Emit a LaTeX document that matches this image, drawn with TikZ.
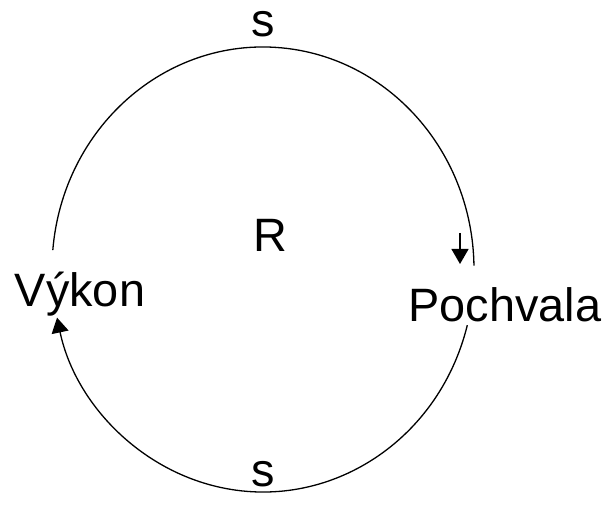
\documentclass[tikz,border=0pt]{standalone}
\usepackage{fontspec}
\setmainfont{Liberation Sans}
\usetikzlibrary{arrows.meta}

\begin{document}
\begin{tikzpicture}[x=1bp,y=1bp]
  \tikzset{ lbl/.style={inner sep=0pt,anchor=base,font=\fontsize{47}{50}\selectfont},
            loop/.style={line width=1.3bp,black},
            tip/.style={-{Triangle[width=17bp,length=15bp]}},
  }
  \useasboundingbox (0,0) rectangle (608,510);

  \node[lbl] (vykon)    at (80, 203)  {Výkon};
  \node[lbl] (pochvala) at (505, 188) {Pochvala};
  \node[lbl] (r)        at (270, 258) {R};
  \node[lbl] (s1)       at (263, 473) {s};
  \node[lbl] (s2)       at (263, 23)  {s};

  % ends of the two arcs
  \coordinate (t1) at (52.8, 259.9);
  \coordinate (t2) at (474, 244.4);
  \coordinate (b1) at (467.3, 184.8);
  \coordinate (b2) at (57, 192.3);
  \coordinate (p1) at (460, 277);
  \coordinate (p2) at (460, 246);

  % the loop between the two nodes
  \draw[loop] (t1) arc[start angle=175, end angle=1, x radius=211bp, y radius=222.5bp];
  \draw[loop,tip] (b1) arc[start angle=-14.5, end angle=-167.5, x radius=211bp, y radius=222.5bp];

  \draw[loop,tip] (p1) -- (p2);
\end{tikzpicture}
\end{document}
